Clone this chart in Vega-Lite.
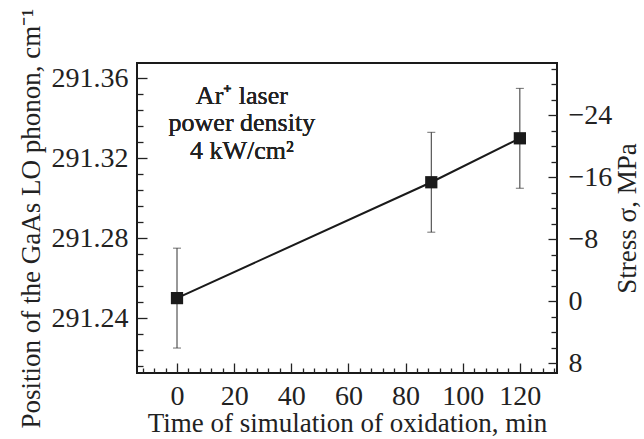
{
  "$schema": "https://vega.github.io/schema/vega-lite/v6.json",
  "width": 420,
  "height": 310,
  "autosize": {"type": "none"},
  "padding": {"left": 137, "top": 63, "right": 87, "bottom": 66},
  "background": "white",
  "config": {
    "view": {"stroke": "#1a1a1a", "strokeWidth": 2},
    "font": "Liberation Serif",
    "axis": {
      "domain": false,
      "grid": false,
      "labelFont": "Liberation Serif",
      "titleFont": "Liberation Serif",
      "labelFontSize": 28,
      "titleFontSize": 27,
      "titleFontWeight": "normal",
      "labelColor": "#222",
      "titleColor": "#222",
      "tickColor": "#222",
      "tickWidth": 1.3
    }
  },
  "data": {
    "values": [
      {"t": 0, "pos": 291.25, "lo": 291.225, "hi": 291.275},
      {"t": 89, "pos": 291.308, "lo": 291.283, "hi": 291.333},
      {"t": 120, "pos": 291.330, "lo": 291.305, "hi": 291.355}
    ]
  },
  "layer": [
    {
      "encoding": {
        "x": {
          "field": "t",
          "type": "quantitative",
          "scale": {"domain": [-14, 133], "nice": false, "zero": false},
          "axis": {
            "title": "Time of simulation of oxidation, min",
            "values": [-12,-8,-4,0,4,8,12,16,20,24,28,32,36,40,44,48,52,56,60,64,68,72,76,80,84,88,92,96,100,104,108,112,116,120,124,128,132],
            "labelExpr": "datum.value % 20 === 0 ? datum.label : ''",
            "tickSize": {"condition": {"test": "datum.value % 20 === 0", "value": -10}, "value": -5},
            "labelPadding": 19,
            "titlePadding": 0,
            "labelFlush": false
          }
        },
        "y": {
          "field": "pos",
          "type": "quantitative",
          "scale": {"domain": [291.2125, 291.3677], "nice": false, "zero": false},
          "axis": {
            "orient": "left",
            "title": "Position of the GaAs LO phonon, cm⁻¹",
            "format": ".2f",
            "values": [291.216,291.224,291.232,291.24,291.248,291.256,291.264,291.272,291.28,291.288,291.296,291.304,291.312,291.32,291.328,291.336,291.344,291.352,291.36],
            "labelExpr": "(abs(datum.value*100 - round(datum.value*100)) < 0.01 && round(datum.value*100) % 4 === 0) ? datum.label : ''",
            "tickSize": {"condition": {"test": "abs(datum.value*100 - round(datum.value*100)) < 0.01 && round(datum.value*100) % 4 === 0", "value": -10}, "value": -6},
            "labelPadding": 19,
            "titlePadding": 6,
            "labelFlush": false
          }
        }
      },
      "layer": [
        {
          "mark": {"type": "rule", "color": "#333", "strokeWidth": 1},
          "encoding": {"y": {"field": "lo", "type": "quantitative"}, "y2": {"field": "hi"}}
        },
        {
          "mark": {"type": "tick", "orient": "horizontal", "color": "#333", "size": 8, "thickness": 1},
          "encoding": {"y": {"field": "lo", "type": "quantitative"}}
        },
        {
          "mark": {"type": "tick", "orient": "horizontal", "color": "#333", "size": 8, "thickness": 1},
          "encoding": {"y": {"field": "hi", "type": "quantitative"}}
        },
        {
          "mark": {"type": "line", "color": "#1a1a1a", "strokeWidth": 2}
        },
        {
          "mark": {"type": "point", "shape": "square", "filled": true, "color": "#1a1a1a", "opacity": 1, "size": 150}
        },
        {
          "mark": {
            "type": "text",
            "text": ["Ar⁺ laser", "power density", "4 kW/cm²"],
            "font": "Liberation Serif",
            "fontSize": 26,
            "lineHeight": 27.5,
            "align": "center",
            "baseline": "alphabetic",
            "color": "#222"
          },
          "encoding": {
            "x": {"datum": 22.7, "type": "quantitative"},
            "y": {"datum": 291.3474, "type": "quantitative"}
          }
        }
      ]
    },
    {
      "mark": {"type": "point", "opacity": 0},
      "encoding": {
        "y": {
          "datum": 0,
          "type": "quantitative",
          "scale": {"domain": [-30.71, 9.29], "nice": false, "zero": false, "reverse": true},
          "axis": {
            "orient": "right",
            "title": "Stress σ, MPa",
            "titleAngle": -90,
            "titleBaseline": "top",
            "values": [-30,-28,-26,-24,-22,-20,-18,-16,-14,-12,-10,-8,-6,-4,-2,0,2,4,6,8],
            "labelExpr": "datum.value % 8 === 0 ? datum.label : ''",
            "tickSize": {"condition": {"test": "datum.value % 8 === 0", "value": -9}, "value": -6},
            "labelPadding": 20,
            "titlePadding": 3,
            "labelFlush": false
          }
        }
      }
    }
  ],
  "resolve": {"scale": {"y": "independent"}}
}
